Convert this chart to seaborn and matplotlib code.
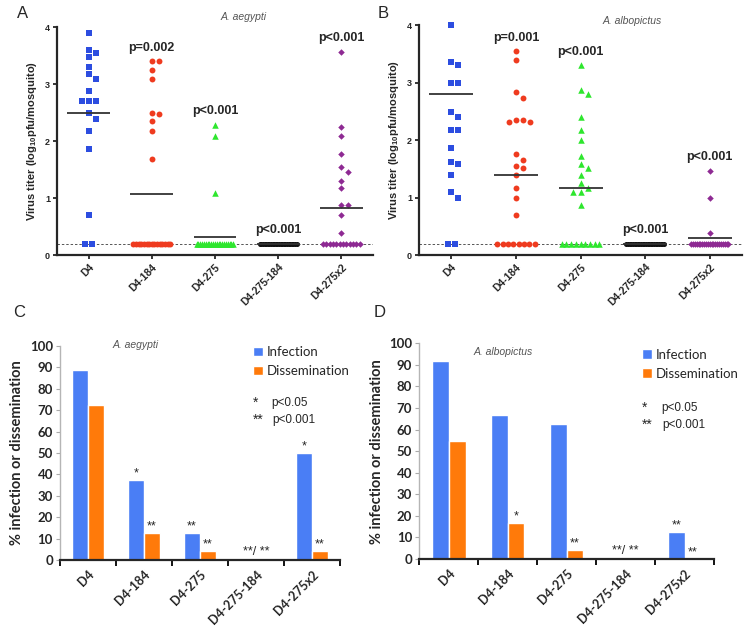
import numpy as np
import pandas as pd
import matplotlib
matplotlib.use("Agg")
import matplotlib.pyplot as plt
import seaborn as sns

groups = ["D4", "D4-184", "D4-275", "D4-275-184", "D4-275x2"]
LOD = 0.2

# A. aegypti titers above the detection limit (log10 pfu/mosquito)
a_d4 = [3.9, 3.6, 3.55, 3.48, 3.3, 3.18, 3.09, 2.87, 2.7, 2.7, 2.7, 2.5, 2.39, 2.17, 1.86, 0.7]
a_184 = [3.4, 3.4, 3.24, 3.09, 2.5, 2.48, 2.35, 2.17, 1.68]
a_275 = [2.29, 2.09, 1.08]
a_275_184 = []
a_275x2 = [3.57, 2.24, 2.09, 1.78, 1.54, 1.46, 1.29, 1.17, 0.87, 0.87, 0.7, 0.39]
a_nlod = [2, 15, 21, 24, 12]          # mosquitoes at the detection limit
a_means = [2.5, 1.07, 0.31, 0.2, 0.82]
a_pvals = ["", "p=0.002", "p<0.001", "p<0.001", "p<0.001"]

# A. albopictus
b_d4 = [4.0, 3.35, 3.3, 3.0, 3.0, 2.48, 2.4, 2.18, 2.18, 1.87, 1.62, 1.58, 1.4, 1.1, 1.0]
b_184 = [3.55, 3.4, 2.84, 2.73, 2.35, 2.31, 2.31, 2.35, 1.76, 1.65, 1.55, 1.52, 1.4, 1.17, 1.0, 0.7]
b_275 = [3.3, 2.88, 2.8, 2.4, 2.18, 2.0, 1.72, 1.59, 1.51, 1.4, 1.25, 1.17, 1.09, 1.09, 0.87]
b_275_184 = []
b_275x2 = [1.47, 1.0, 0.39]
b_nlod = [2, 8, 9, 24, 21]
b_means = [2.8, 1.39, 1.17, 0.2, 0.3]
b_pvals = ["", "p=0.001", "p<0.001", "p<0.001", "p<0.001"]

# % infection / dissemination
c_inf = [89, 37.5, 12.5, 0, 50]
c_dis = [72.5, 12.5, 4.2, 0, 4.2]
c_inf_sig = ["", "*", "**", "", "*"]
c_dis_sig = ["", "**", "**", "", "**"]
d_inf = [91.7, 66.7, 62.5, 0, 12.5]
d_dis = [54.5, 16.7, 4.2, 0, 0]
d_inf_sig = ["", "", "", "", "**"]
d_dis_sig = ["", "*", "**", "", "**"]
both_sig = "**/ **"

sns.set_style("ticks")
plt.rcParams["font.family"] = ["Liberation Sans", "DejaVu Sans"]
plt.rcParams["mathtext.fontset"] = "custom"
plt.rcParams["mathtext.rm"] = "Liberation Sans"
plt.rcParams["mathtext.bf"] = "Liberation Sans:bold"

marker_cols = ["#2c4de0", "#ef3b1f", "#2ee62e", "#111111", "#8e2a93"]
markers = ["s", "o", "^", "o", "D"]
sizes = [15, 18, 22, 13, 11]
bar_blue = "#4a7ef5"
bar_orange = "#ff7a0a"


def swarm_x(values, n_lod, xpx=64.0, ypx=57.0, d=6.8, step=0.11, row_w=0.58):
    # prism-like column scatter: points above the limit dodge each other,
    # points at the limit sit in one compressed row
    placed = []
    for v in sorted(values, reverse=True):
        k = 0
        while True:
            m = (k + 1) // 2
            off = m * step * (1 if k % 2 else -1)
            if all(np.hypot((off - px) * xpx, (v - py) * ypx) >= d for px, py in placed):
                break
            k += 1
        placed.append((off, v))
    if n_lod == 1:
        row = [0.0]
    elif n_lod > 1:
        w = min((n_lod - 1) * step, row_w)
        row = list(np.linspace(-w / 2, w / 2, n_lod))
    else:
        row = []
    xs = [p[0] for p in placed] + row
    ys = [p[1] for p in placed] + [LOD] * n_lod
    return xs, ys


def titer_panel(ax, data, nlod, means, pvals, species, sp_xy):
    for i, (vals, n) in enumerate(zip(data, nlod)):
        xs, ys = swarm_x(vals, n)
        sub = pd.DataFrame({"x": np.array(xs) + i, "y": ys})
        sns.scatterplot(data=sub, x="x", y="y", marker=markers[i], color=marker_cols[i],
                        s=sizes[i], linewidth=0, ax=ax, zorder=3, clip_on=False)
        ax.hlines(means[i], i - 0.34, i + 0.34, color="#333333", lw=1.3, zorder=4)
        if pvals[i]:
            top = max(vals) if vals else LOD
            ax.text(i, top + 0.13, pvals[i], ha="center", va="bottom",
                    fontsize=9, fontweight="bold")
    ax.axhline(LOD, color="#555555", lw=0.7, ls=(0, (2.5, 2)), zorder=1)
    ax.set_xlim(-0.5, 4.5)
    ax.set_ylim(0, 4)
    ax.set_yticks([0, 1, 2, 3, 4])
    ax.set_xticks(range(5))
    ax.set_xticklabels(groups, rotation=45, ha="right", rotation_mode="anchor",
                       fontsize=7.5, fontweight="bold")
    for lab in ax.get_yticklabels():
        lab.set_fontsize(6.5)
        lab.set_fontweight("bold")
    ax.tick_params(axis="both", length=3, width=1.3, pad=2)
    ax.set_xlabel("")
    ax.set_ylabel(r"Virus titer (log$_{\mathbf{10}}$pfu/mosquito)", fontsize=8,
                  fontweight="bold", labelpad=4)
    for s in ["left", "bottom"]:
        ax.spines[s].set_linewidth(1.6)
    sns.despine(ax=ax)
    ax.text(sp_xy[0], sp_xy[1], species, transform=ax.transAxes, ha="center",
            va="center", fontsize=7.5, style="italic", color="#555555")


def bar_panel(ax, inf, dis, inf_sig, dis_sig, species, sp_xy, leg_x, leg_y, p_y):
    df = pd.DataFrame({"group": groups * 2,
                       "measure": ["Infection"] * 5 + ["Dissemination"] * 5,
                       "value": inf + dis})
    sns.barplot(data=df, x="group", y="value", hue="measure",
                palette=[bar_blue, bar_orange], width=0.57, gap=0, saturation=1,
                ax=ax)
    ax.bar_label(ax.containers[0], labels=inf_sig, padding=0.5, fontsize=9)
    ax.bar_label(ax.containers[1], labels=dis_sig, padding=0.5, fontsize=9)
    ax.text(3, 1, both_sig, ha="center", va="bottom", fontsize=9)
    ax.set_xlim(-0.5, 4.5)
    ax.set_ylim(0, 100)
    ax.set_yticks(range(0, 101, 10))
    ax.set_xticks(range(5))
    ax.set_xticklabels(groups, rotation=45, ha="right", rotation_mode="anchor",
                       fontsize=9, fontweight="bold", family="Lato")
    ax.set_xticks(np.arange(-0.5, 5, 1), minor=True)
    ax.tick_params(axis="x", which="major", length=0, pad=6)
    ax.tick_params(axis="x", which="minor", length=4, width=1.3, color="black")
    ax.tick_params(axis="y", length=3, width=0.8, color="#aaaaaa", pad=2)
    for lab in ax.get_yticklabels():
        lab.set_fontsize(9.5)
        lab.set_fontweight("bold")
        lab.set_family("Lato")
    ax.set_xlabel("")
    ax.set_ylabel("% infection or dissemination", fontsize=10.5, fontweight="bold",
                  family="Lato", labelpad=4)
    sns.despine(ax=ax)
    ax.spines["left"].set_color("#b5b5b5")
    ax.spines["left"].set_linewidth(1)
    ax.spines["bottom"].set_linewidth(1.6)
    ax.text(sp_xy[0], sp_xy[1], species, ha="center", va="center", fontsize=7.5,
            style="italic", color="#555555")
    ax.legend(loc="upper left", bbox_to_anchor=(leg_x, leg_y), frameon=False,
              handlelength=0.75, handleheight=0.75, handletextpad=0.3,
              labelspacing=0.55, borderpad=0, borderaxespad=0,
              prop={"family": "Lato", "size": 9.5})
    ax.text(leg_x, p_y[0], "*", transform=ax.transAxes, fontsize=10, va="center")
    ax.text(leg_x + 0.065, p_y[0], "p<0.05", transform=ax.transAxes, fontsize=8.5,
            va="center")
    ax.text(leg_x, p_y[1], "**", transform=ax.transAxes, fontsize=10, va="center")
    ax.text(leg_x + 0.07, p_y[1], "p<0.001", transform=ax.transAxes, fontsize=8.5,
            va="center")


fig = plt.figure(figsize=(7.5, 6.35), dpi=100)
axA = fig.add_axes([0.076, 0.5984, 0.4213, 0.359])
axB = fig.add_axes([0.5587, 0.5984, 0.4307, 0.362])
axC = fig.add_axes([0.080, 0.1181, 0.3733, 0.337])
axD = fig.add_axes([0.559, 0.1197, 0.393, 0.3397])

titer_panel(axA, [a_d4, a_184, a_275, a_275_184, a_275x2], a_nlod, a_means, a_pvals,
            "A. aegypti", (0.589, 1.044))
titer_panel(axB, [b_d4, b_184, b_275, b_275_184, b_275x2], b_nlod, b_means, b_pvals,
            "A. albopictus", (0.66, 1.02))
bar_panel(axC, c_inf, c_dis, c_inf_sig, c_dis_sig, "A. aegypti", (0.84, 100.5),
          0.69, 1.0, (0.735, 0.655))
bar_panel(axD, d_inf, d_dis, d_inf_sig, d_dis_sig, "A. albopictus", (0.92, 95.8),
          0.755, 0.975, (0.70, 0.62))

for letter, x, y in [("A", 23, 14), ("B", 383, 14), ("C", 19, 313), ("D", 380, 313)]:
    fig.text(x / 750, 1 - y / 635, letter, ha="center", va="center", fontsize=12)

fig.savefig("out.png", dpi=100)
